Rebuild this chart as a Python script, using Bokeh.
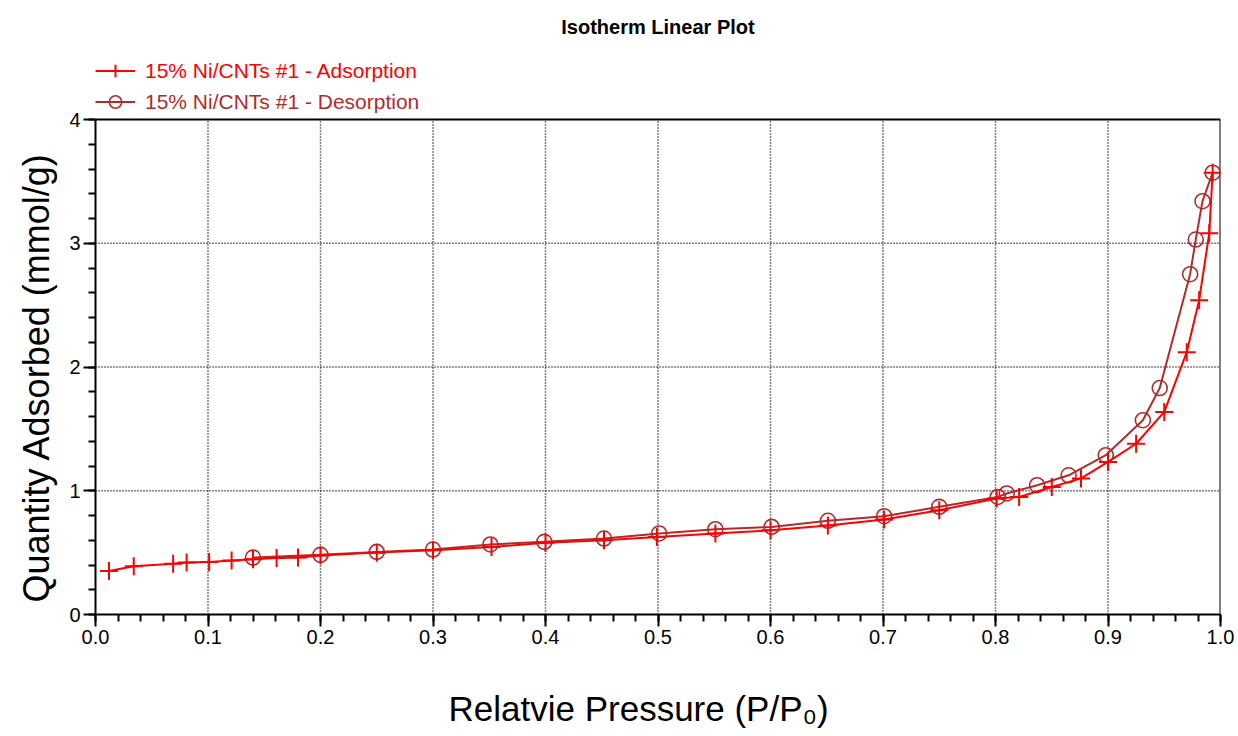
from bokeh.plotting import figure
from bokeh.layouts import column
from bokeh.models import (Range1d, SingleIntervalTicker, PrintfTickFormatter,
                          Legend, LegendItem, Label, Title)
from bokeh.embed import file_html
from bokeh.resources import INLINE

# Isotherm data: relative pressure (P/P0) vs quantity adsorbed (mmol/g)
ads_p = [0.012, 0.034, 0.069, 0.081, 0.101, 0.121, 0.140, 0.161, 0.180, 0.200,
         0.250, 0.300, 0.352, 0.400, 0.452, 0.499, 0.551, 0.600, 0.651, 0.701,
         0.750, 0.801, 0.821, 0.850, 0.876, 0.900, 0.925, 0.950, 0.970, 0.981,
         0.990, 0.993]
ads_q = [0.352, 0.390, 0.410, 0.420, 0.425, 0.436, 0.447, 0.457, 0.460, 0.477,
         0.500, 0.520, 0.546, 0.579, 0.600, 0.627, 0.655, 0.680, 0.720, 0.768,
         0.843, 0.937, 0.950, 1.030, 1.100, 1.233, 1.380, 1.637, 2.120, 2.540,
         3.080, 3.570]

des_p = [0.993, 0.984, 0.978, 0.973, 0.946, 0.931, 0.898, 0.865, 0.837, 0.810,
         0.802, 0.750, 0.701, 0.651, 0.601, 0.551, 0.501, 0.452, 0.399, 0.351,
         0.300, 0.250, 0.200, 0.140]
des_q = [3.570, 3.340, 3.030, 2.750, 1.830, 1.570, 1.287, 1.125, 1.045, 0.978,
         0.950, 0.870, 0.794, 0.757, 0.708, 0.689, 0.655, 0.614, 0.587, 0.566,
         0.525, 0.506, 0.482, 0.460]

# axis limits and gridline positions
x_min, x_max = 0.0, 1.0
y_min, y_max = 0.0, 4.0
x_grid = [0.1, 0.2, 0.3, 0.4, 0.5, 0.6, 0.7, 0.8, 0.9]
y_grid = [1.0, 2.0, 3.0]

ads_label = "15% Ni/CNTs #1 - Adsorption"
des_label = "15% Ni/CNTs #1 - Desorption"
title_text = "Isotherm Linear Plot"
x_title = "Relatvie Pressure (P/P\u2080)"
y_title = "Quantity Adsorbed (mmol/g)"
ads_color = "#FF0000"
des_color = "#B02C2C"
FONT = "Liberation Sans"

# layout (pixels): the main frame runs from the top of the canvas down to the
# x axis, so the title and legend sit inside it above the plotted box; the x-axis
# title lives in a thin strip underneath
W = 1238
LEFT, RIGHT = 95, 18
MAIN_H, AXIS_PANEL = 680, 66
STRIP_H = 56
BOX_TOP = 119                      # canvas y of the top of the plotted box
frame_h = MAIN_H - AXIS_PANEL
y_top = y_max * frame_h / (frame_h - BOX_TOP)

p = figure(width=W, height=MAIN_H, output_backend="svg", toolbar_location=None,
           x_range=Range1d(x_min, x_max), y_range=Range1d(y_min, y_top),
           min_border_left=LEFT, min_border_right=RIGHT,
           min_border_top=0, min_border_bottom=AXIS_PANEL)

p.outline_line_color = None
p.background_fill_color = "white"
p.border_fill_color = "white"
p.xgrid.grid_line_color = None
p.ygrid.grid_line_color = None

# axes
p.xaxis.ticker = SingleIntervalTicker(interval=0.1, num_minor_ticks=5)
p.yaxis.ticker = SingleIntervalTicker(interval=1, num_minor_ticks=5)
p.xaxis.formatter = PrintfTickFormatter(format="%.1f")
p.yaxis.formatter = PrintfTickFormatter(format="%d")
p.xaxis.bounds = (x_min, x_max)
p.yaxis.bounds = (y_min, y_max)
for ax in (p.xaxis, p.yaxis):
    ax.axis_line_color = "black"
    ax.axis_line_width = 2
    ax.major_tick_line_color = "black"
    ax.major_tick_line_width = 2
    ax.minor_tick_line_color = "black"
    ax.minor_tick_line_width = 2
    ax.major_tick_in = 0
    ax.major_tick_out = 12
    ax.minor_tick_in = 0
    ax.minor_tick_out = 7
    ax.major_label_text_font = FONT
    ax.major_label_text_font_size = "20px"
    ax.major_label_text_color = "black"
    ax.major_label_standoff = 3

# y-axis title, placed along the plotted box rather than the whole frame
p.add_layout(Title(text=y_title, align="left", offset=12, standoff=20,
                   text_font=FONT, text_font_size="36px", text_font_style="normal",
                   text_color="black"), "left")

# dotted grid at the major ticks, confined to the plotted box
grid_style = dict(line_color="black", line_dash="1 2", line_width=1.5)
p.segment(x0=x_grid, y0=[y_min] * len(x_grid), x1=x_grid, y1=[y_max] * len(x_grid),
          **grid_style)
p.segment(x0=[x_min] * len(y_grid), y0=y_grid, x1=[x_max] * len(y_grid), y1=y_grid,
          **grid_style)

# top and right edges of the box
p.segment(x0=[x_min, x_max], y0=[y_max, y_min], x1=[x_max, x_max], y1=[y_max, y_max],
          line_color="black", line_width=2)

# desorption branch
des_line = p.line(des_p, des_q, line_color=des_color, line_width=2)
des_pts = p.scatter(des_p, des_q, marker="circle", size=15, fill_color=None,
                    line_color=des_color, line_width=1.6)

# adsorption branch
ads_line = p.line(ads_p, ads_q, line_color=ads_color, line_width=2)
ads_pts = p.scatter(ads_p, ads_q, marker="cross", size=18,
                    line_color=ads_color, line_width=2)

# legends above the box, each in its own series colour
row_h = 31
leg_bottom = frame_h - BOX_TOP + 2
common = dict(border_line_color=None, background_fill_alpha=0, padding=0,
              margin=0, spacing=0, glyph_width=40, glyph_height=row_h,
              label_height=row_h, label_standoff=10, label_text_font=FONT,
              label_text_font_size="21px")
leg_des = Legend(items=[LegendItem(label=des_label, renderers=[des_line, des_pts])],
                 location=(0, leg_bottom), label_text_color=des_color, **common)
leg_ads = Legend(items=[LegendItem(label=ads_label, renderers=[ads_line, ads_pts])],
                 location=(0, leg_bottom + row_h), label_text_color=ads_color, **common)
p.add_layout(leg_des, "center")
p.add_layout(leg_ads, "center")

# chart title, centred over the box
p.add_layout(Label(x=(W - LEFT - RIGHT) / 2, y=frame_h - 26, x_units="screen",
                   y_units="screen", text=title_text, text_align="center",
                   text_baseline="middle", text_font=FONT, text_font_size="20px",
                   text_font_style="bold", text_color="black"))

# strip below the main plot holding the x-axis title (its frame lines up with
# the main frame, so x is measured from the left edge of the box)
strip = figure(width=W, height=STRIP_H, output_backend="svg", toolbar_location=None,
               x_axis_location=None, y_axis_location=None,
               x_range=Range1d(0, W), y_range=Range1d(0, STRIP_H),
               min_border=0)
strip.outline_line_color = None
strip.grid.grid_line_color = None
strip.add_layout(Label(x=353, y=STRIP_H - 28, x_units="screen", y_units="screen",
                       text=x_title, text_align="left", text_baseline="middle",
                       text_font=FONT, text_font_size="35px", text_color="black"))

page = column(p, strip, spacing=0)
open("out.html", "w").write(file_html(page, INLINE))
